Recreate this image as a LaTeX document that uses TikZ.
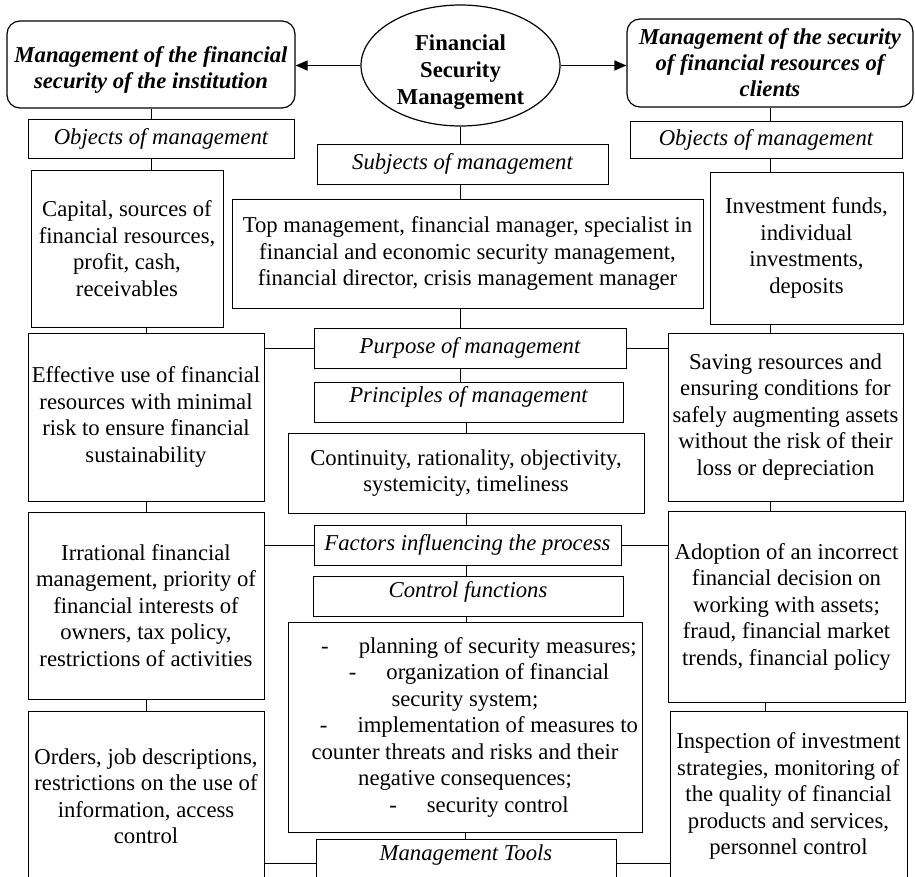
\documentclass[tikz,border=0pt]{standalone}
\usepackage{fontspec}
\setmainfont{Liberation Serif}
\usetikzlibrary{arrows.meta,shapes.geometric}

\tikzset{
  txt/.style={font=\fontsize{22.7pt}{26.5pt}\selectfont},
  box/.style={txt, draw, rectangle, line width=1pt, inner sep=0pt, align=center},
  lbl/.style={box, font=\fontsize{22.7pt}{26.5pt}\selectfont\itshape,
              text height=16pt, text depth=5pt},
  head/.style={box, rounded corners=13pt, line width=1.2pt,
               font=\fontsize{22.7pt}{26pt}\selectfont\bfseries\itshape},
  link/.style={line width=1pt},
  arr/.style={line width=1.2pt, -{Triangle[length=12pt,width=10pt]}}
}

\begin{document}
\begin{tikzpicture}[x=1pt, y=-1pt]
\useasboundingbox (0,0) rectangle (915,876);
\clip (0,0) rectangle (915,876);

% centre: root and subjects
\node[txt, draw, ellipse, line width=1.2pt, inner sep=0pt,
      minimum width=199pt, minimum height=121pt,
      font=\fontsize{22.7pt}{27pt}\selectfont\bfseries] (ell) at (460.5,65.5)
      {\raisebox{-12pt}[0pt][0pt]{\begin{tabular}{@{}c@{}}Financial\\Security\\Management\end{tabular}}};

% two branches
\node[head, minimum width=288pt, minimum height=87pt] (lt) at (151,64.5)
      {\raisebox{-11pt}[0pt][0pt]{\begin{tabular}{@{}c@{}}Management of the financial\\security of the institution\end{tabular}}};
\node[head, minimum width=286pt, minimum height=88pt] (rt) at (770,63)
      {Management of the security\\of financial resources of\\clients};

% left column
\node[lbl, minimum width=266pt, minimum height=39pt] (lobj) at (161,138.5) {Objects of management};
\node[box, minimum width=192pt, minimum height=157pt] (lcap) at (127,248.5)
      {Capital, sources of\\financial resources,\\profit, cash,\\receivables};
\node[box, minimum width=236pt, minimum height=168pt] (leff) at (146,417)
      {Effective use of financial\\resources with minimal\\risk to ensure financial\\sustainability};
\node[box, minimum width=236pt, minimum height=187pt] (lirr) at (146,605.5)
      {Irrational financial\\management, priority of\\financial interests of\\owners, tax policy,\\restrictions of activities};
\node[box, minimum width=236pt, minimum height=170pt] (lord) at (146,796)
      {Orders, job descriptions,\\restrictions on the use of\\information, access\\control};

% right column
\node[lbl, minimum width=272pt, minimum height=37pt] (robj) at (766,139.5) {Objects of management};
\node[box, minimum width=193pt, minimum height=152pt] (rinv) at (806.5,248)
      {Investment funds,\\individual\\investments,\\deposits};
\node[box, minimum width=235pt, minimum height=168pt] (rsav) at (785.5,417)
      {Saving resources and\\ensuring conditions for\\safely augmenting assets\\without the risk of their\\loss or depreciation};
\node[box, minimum width=237pt, minimum height=191pt] (radop) at (786.5,606.5)
      {Adoption of an incorrect\\financial decision on\\working with assets;\\fraud, financial market\\trends, financial policy};
\node[box, minimum width=237pt, minimum height=170pt] (rinsp) at (788.5,796)
      {Inspection of investment\\strategies, monitoring of\\the quality of financial\\products and services,\\personnel control};

% centre column
\node[lbl, minimum width=291pt, minimum height=40pt] (subj) at (462.5,164) {Subjects of management};
\node[box, minimum width=471pt, minimum height=109pt] (top) at (467.5,253.5)
      {Top management, financial manager, specialist in\\financial and economic security management,\\financial director, crisis management manager};
\node[lbl, minimum width=312pt, minimum height=40pt] (purp) at (470,348) {Purpose of management};
\node[lbl, minimum width=309pt, minimum height=40pt, text depth=16pt] (princ) at (468.5,402) {Principles of management};
\node[box, minimum width=356pt, minimum height=80pt] (cont) at (466,473)
      {Continuity, rationality, objectivity,\\systemicity, timeliness};
\node[lbl, minimum width=307pt, minimum height=40pt] (fact) at (467.5,545) {Factors influencing the process};
\node[lbl, minimum width=310pt, minimum height=40pt, text depth=13pt] (ctrl) at (468,596) {Control functions};
\node[box, minimum width=354pt, minimum height=210pt] (clist) at (465,727)
      {\hspace*{28pt}-\hspace{30pt}planning of security measures;\\
       \hspace*{28pt}-\hspace{30pt}organization of financial\\
       security system;\\
       \hspace*{28pt}-\hspace{30pt}implementation of measures to\\
       counter threats and risks and their\\
       negative consequences;\\
       \hspace*{28pt}-\hspace{30pt}security control};
\node[lbl, minimum width=300pt, minimum height=48pt, text depth=21pt] (tools) at (466,863) {Management Tools};

% arrows from the root
\draw[arr] (ell.west) -- (ell.west -| lt.east);
\draw[arr] (ell.east) -- (ell.east -| rt.west);

% vertical links, left column
\draw[link] (lt.south) -- (lt.south |- lobj.north);
\draw[link] (lobj.south -| lt) -- (lcap.north -| lt);
\draw[link] (lcap.south -| leff) -- (leff.north);
\draw[link] (leff.south) -- (lirr.north);
\draw[link] (lirr.south) -- (lord.north);

% vertical links, right column
\draw[link] (rt.south) -- (rt.south |- robj.north);
\draw[link] (robj.south -| rt) -- (rinv.north -| rt);
\draw[link] (rinv.south -| rt) -- (rsav.north -| rt);
\draw[link] (rsav.south -| rt) -- (radop.north -| rt);
\draw[link] (radop.south -| rinsp) ++(-23pt,0) -- ++(0,9);

% vertical links, centre column
\draw[link] (ell.south) -- (subj.north -| ell);
\draw[link] (subj.south -| ell) -- (top.north -| ell);
\draw[link] (top.south -| ell) -- (purp.north -| ell);
\draw[link] (purp.south -| ell) -- (princ.north -| ell);
\draw[link] (princ.south -| cont) -- (cont.north);
\draw[link] (cont.south) -- (fact.north -| cont);
\draw[link] (fact.south -| cont) -- (ctrl.north -| cont);
\draw[link] (ctrl.south -| cont) -- (clist.north -| cont);
\draw[link] (clist.south) -- (tools.north -| clist);

% horizontal links from the centre to the side columns
\draw[link] (purp.west) -- (purp.west -| leff.east);
\draw[link] (purp.east) -- (purp.east -| rsav.west);
\draw[link] (fact.west) -- (fact.west -| lirr.east);
\draw[link] (fact.east) -- (fact.east -| radop.west);
\draw[link] (tools.west) -- (tools.west -| lord.east);
\draw[link] (tools.east) -- (tools.east -| rinsp.west);
\end{tikzpicture}
\end{document}
